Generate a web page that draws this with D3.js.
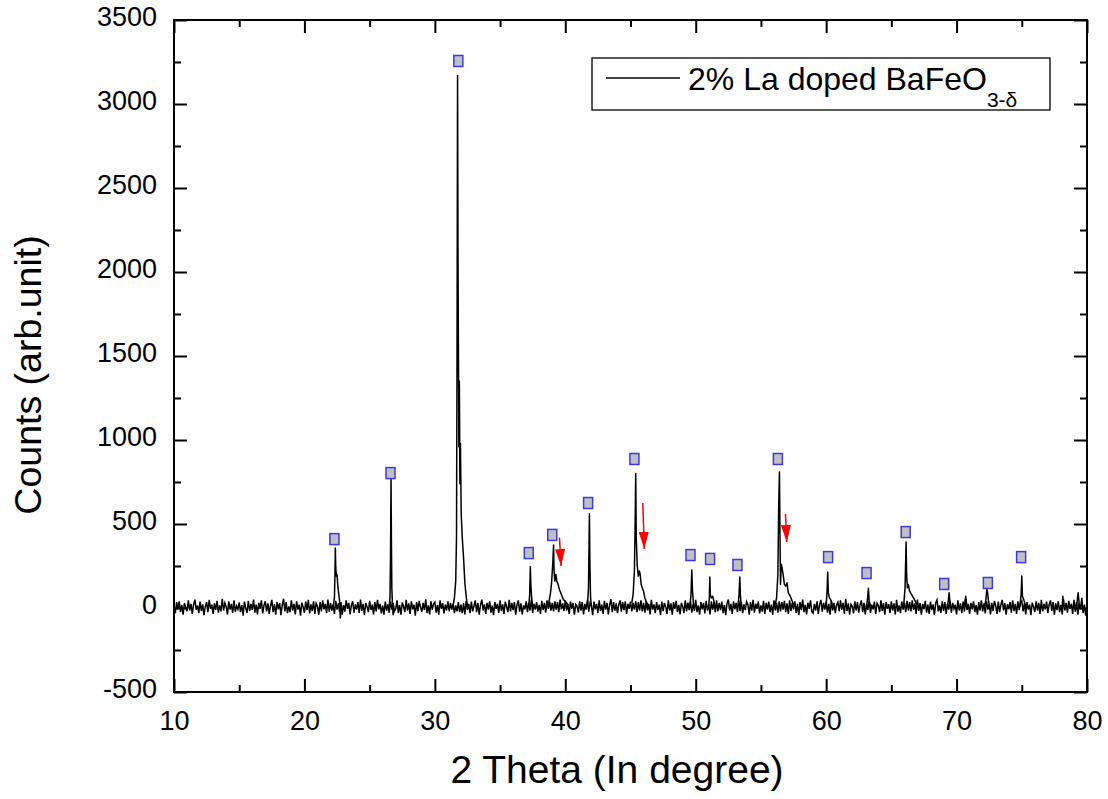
<!DOCTYPE html>
<html>
<head>
<meta charset="utf-8">
<script src="https://cdn.jsdelivr.net/npm/d3@7"></script>
<style>
  body { margin: 0; background: #fff; }
  text { font-family: Arial, "Liberation Sans", sans-serif; fill: #000; }
</style>
</head>
<body>
<svg id="chart"></svg>
<script>
// background counts, one value every 0.1 deg from 10.0 (one row per degree)
const background = [
  12,-30,35,-8,40,-25,18,-40,30,5,
  -20,45,-15,25,-35,20,50,-10,15,-30,
  38,-18,22,-42,10,35,-25,48,-5,20,
  -35,28,-12,42,-28,15,-20,55,-15,30,
  8,-38,40,-10,25,-30,45,-22,12,-8,
  33,-25,18,-45,38,0,-30,42,-18,25,
  -12,50,-28,20,-38,30,-5,45,-32,15,
  40,-20,28,-35,12,48,-25,22,-40,35,
  -8,30,-42,18,55,-20,35,-30,10,-25,
  45,-15,25,-38,40,-10,20,-45,32,5,
  -28,38,-12,48,-32,22,-18,40,-35,28,
  10,-40,35,-20,45,-8,25,-30,50,-22,
  30,-15,20,-35,42,-10,28,-25,35,-40,
  18,-22,45,-5,30,-38,15,40,-28,22,
  -10,35,-30,50,-18,25,-42,30,8,-25,
  42,-12,20,-38,35,-20,48,-8,25,-32,
  15,-40,38,-15,22,-28,40,-10,30,-20,
  -5,45,-30,18,-40,32,10,-25,48,-15,
  28,-35,40,-8,20,-45,35,-18,42,5,
  -22,30,-12,52,-30,15,-38,40,-10,25,
  35,-28,18,-40,45,-5,28,-32,20,-15,
  40,-20,30,-10,25,-30,15,-20,35,-25,
  20,-30,28,-38,42,-12,25,-30,38,-20,
  12,45,-25,30,-40,18,50,-15,22,-35,
  30,-10,40,-28,15,-42,35,-5,25,-30,
  45,-18,22,-35,38,8,-25,48,-20,30,
  -12,35,-40,20,45,-22,28,-38,15,-8,
  40,-25,32,-15,50,-30,25,-10,35,-22,
  18,-35,42,-12,30,-28,45,-5,38,-15,
  30,-20,40,-10,35,-25,50,-8,28,-18,
  45,-15,25,-35,38,-5,30,-40,22,10,
  -28,40,-15,35,-38,25,-10,48,-22,30,
  15,-42,38,-8,25,-30,45,-18,20,-35,
  42,-10,30,-38,18,52,-25,35,-15,28,
  -30,20,45,-22,35,-12,40,-35,25,-5,
  38,-20,30,-10,40,-25,35,-15,45,-20,
  30,-28,40,-15,25,-38,48,-10,22,-30,
  35,-12,20,-42,38,-18,30,8,-35,45,
  -15,28,-40,35,-5,42,-25,18,-38,30,
  10,-30,45,-20,32,-12,40,-28,25,-18,
  48,-25,15,-40,35,-8,30,-32,42,-15,
  22,-38,40,-10,35,-25,45,-20,30,-12,
  38,-30,18,-42,28,50,-15,25,-35,40,
  -8,30,-25,45,-18,35,-30,22,-12,38,
  20,-40,35,-15,48,-28,25,-5,40,-32,
  15,-22,42,-35,30,-10,38,-25,20,-40,
  45,-15,30,-28,40,-20,35,-10,42,-25,
  28,-35,45,-18,30,-8,40,-30,25,-42,
  35,-12,50,-25,18,-38,32,-5,45,-20,
  -30,25,-15,40,-35,20,48,-22,30,-10,
  38,-28,25,-40,42,-15,30,-30,20,35,
  -20,45,-10,30,-35,55,-18,28,-40,22,
  10,-32,40,-15,35,-28,18,45,-25,30,
  -38,25,-12,42,-30,20,-8,38,-35,28,
  15,-25,45,-18,30,-40,35,-5,22,-30,
  40,-15,28,-38,48,-22,15,-30,38,-10,
  30,-25,42,-15,35,-20,45,-12,28,-35,
  50,-18,30,-40,25,-8,42,-28,20,-35,
  38,-12,22,-42,30,48,-20,15,-30,40,
  -18,35,-35,25,-10,42,-28,30,-5,20,
  -38,45,-15,28,-30,38,-22,50,-12,25,
  -35,30,-8,40,-25,18,-40,35,-15,45,
  -20,28,-32,40,-10,25,-38,30,-18,42,
  12,-35,38,-25,20,48,-15,30,-40,22,
  -8,35,-28,45,-18,25,-35,40,-12,30,
  42,-20,28,-38,35,-10,20,-42,32,8,
  -25,40,-15,30,-35,48,-20,25,-8,38,
  -30,22,45,-18,35,-40,28,-12,40,-25,
  18,-38,50,-15,30,-28,42,-5,25,-35,
  48,-22,35,-40,28,-10,60,-30,20,-45,
  10
]
const bgStart = 10, bgStep = 0.1

// Bragg peaks, [2 theta, counts]
const peakProfiles = [
  [[22.2,10],[22.3,60],[22.34,200],[22.37,357],[22.4,240],[22.45,190],[22.5,200],[22.56,130],[22.62,90],[22.7,40],[22.75,-60],[22.85,10]],
  [[26.5,10],[26.56,60],[26.6,300],[26.64,770],[26.67,400],[26.7,120],[26.75,20],[26.8,-40],[26.85,10]],
  [[31.4,15],[31.5,60],[31.6,160],[31.66,420],[31.7,1500],[31.74,3170],[31.78,2000],[31.84,960],[31.88,1350],[31.92,740],[31.96,980],[32.02,560],[32.1,420],[32.2,300],[32.3,150],[32.4,70],[32.5,10]],
  [[37.2,10],[37.27,80],[37.32,246],[37.36,140],[37.42,60],[37.5,10]],
  [[38.7,20],[38.85,80],[38.95,150],[39.05,280],[39.1,375],[39.14,220],[39.2,160],[39.28,200],[39.35,160],[39.45,140],[39.55,110],[39.7,80],[39.85,50],[40,40],[40.2,20]],
  [[41.7,15],[41.78,120],[41.85,561],[41.89,250],[41.94,60],[42,10]],
  [[45.1,30],[45.2,80],[45.3,220],[45.36,520],[45.4,800],[45.44,420],[45.52,250],[45.6,190],[45.68,220],[45.74,200],[45.82,140],[45.9,120],[46,100],[46.1,60],[46.25,30],[46.4,10]],
  [[49.55,10],[49.64,80],[49.7,226],[49.75,110],[49.82,30],[49.9,10]],
  [[51,10],[51.05,70],[51.08,185],[51.12,80],[51.2,60],[51.3,70],[51.4,40],[51.5,10]],
  [[53.25,10],[53.32,80],[53.38,185],[53.43,70],[53.5,10]],
  [[56.1,20],[56.2,60],[56.3,200],[56.36,600],[56.42,810],[56.46,450],[56.5,140],[56.56,260],[56.62,240],[56.7,200],[56.8,140],[56.9,130],[57,150],[57.1,90],[57.25,70],[57.4,40],[57.6,10]],
  [[60,10],[60.07,100],[60.12,214],[60.17,90],[60.25,60],[60.35,50],[60.5,10]],
  [[63.1,10],[63.18,60],[63.24,117],[63.3,40],[63.4,10]],
  [[65.95,20],[66.05,120],[66.13,393],[66.17,200],[66.23,120],[66.3,140],[66.4,100],[66.55,80],[66.7,60],[66.9,30],[67.1,10]],
  [[69.3,10],[69.38,50],[69.43,91],[69.5,20]],
  [[70.6,10],[70.7,70],[70.8,10]],
  [[72.15,10],[72.25,50],[72.32,113],[72.38,90],[72.45,40],[72.55,10]],
  [[74.85,10],[74.95,80],[75,190],[75.05,70],[75.15,50],[75.3,10]],
  [[78.1,10],[78.15,70],[78.2,10]],
  [[79.2,10],[79.32,91],[79.42,10]]
]

// square peak markers
const markerTheta = [22.3, 26.6, 31.8, 37.2, 39.0, 41.75, 45.3, 49.6, 51.1, 53.2, 56.3, 60.15, 63.1, 66.1, 69.05, 72.4, 74.95]
const markerCounts = [410, 803, 3256, 327, 435, 625, 887, 315, 292, 256, 887, 303, 208, 452, 143, 149, 303]

// red arrows: [theta start, counts start, theta tip, counts tip]
const arrows = [
  [39.55, 420, 39.68, 190],
  [45.94, 625, 46.06, 292],
  [56.88, 560, 56.98, 333]
]

const xTicks = [10, 20, 30, 40, 50, 60, 70, 80]
const yTicks = [-500, 0, 500, 1000, 1500, 2000, 2500, 3000, 3500]

const width = 1108, height = 799
const margin = {top: 20, right: 21, bottom: 107, left: 174}

const svg = d3.select('#chart')
    .attr('width', width)
    .attr('height', height)

const x = d3.scaleLinear().domain([10, 80]).range([margin.left, width - margin.right])
const y = d3.scaleLinear().domain([-500, 3500]).range([height - margin.bottom, margin.top])

const x0 = x.range()[0], x1 = x.range()[1]
const y0 = y.range()[0], y1 = y.range()[1]

const fmt = d => d3.format('d')(d).replace('−', '-')

// axes (ticks point inward, on all four sides)
const xMinor = d3.range(15, 80, 10)
const yMinor = d3.range(-250, 3500, 500)

const axisStyle = g => {
    g.select('.domain').remove()
    g.selectAll('line').attr('stroke', '#000').attr('stroke-width', 2)
    g.selectAll('text').style('font-size', '27px')
}

svg.append('g')
    .attr('transform', `translate(0,${y0})`)
    .call(d3.axisBottom(x).tickValues(xTicks).tickSize(-13).tickPadding(19).tickFormat(fmt))
    .call(axisStyle)
svg.append('g')
    .attr('transform', `translate(0,${y0})`)
    .call(d3.axisBottom(x).tickValues(xMinor).tickSize(-7).tickFormat(''))
    .call(axisStyle)
svg.append('g')
    .attr('transform', `translate(0,${y1})`)
    .call(d3.axisTop(x).tickValues(xTicks).tickSize(-13).tickFormat(''))
    .call(axisStyle)
svg.append('g')
    .attr('transform', `translate(0,${y1})`)
    .call(d3.axisTop(x).tickValues(xMinor).tickSize(-7).tickFormat(''))
    .call(axisStyle)

svg.append('g')
    .attr('transform', `translate(${x0},0)`)
    .call(d3.axisLeft(y).tickValues(yTicks).tickSize(-13).tickPadding(17).tickFormat(fmt))
    .call(axisStyle)
    .selectAll('text').attr('dy', '0.22em')
svg.append('g')
    .attr('transform', `translate(${x0},0)`)
    .call(d3.axisLeft(y).tickValues(yMinor).tickSize(-7).tickFormat(''))
    .call(axisStyle)
svg.append('g')
    .attr('transform', `translate(${x1},0)`)
    .call(d3.axisRight(y).tickValues(yTicks).tickSize(-13).tickFormat(''))
    .call(axisStyle)
svg.append('g')
    .attr('transform', `translate(${x1},0)`)
    .call(d3.axisRight(y).tickValues(yMinor).tickSize(-7).tickFormat(''))
    .call(axisStyle)

// frame
svg.append('rect')
    .attr('x', x0).attr('y', y1)
    .attr('width', x1 - x0).attr('height', y0 - y1)
    .attr('fill', 'none').attr('stroke', '#000').attr('stroke-width', 2)

// background noise + peaks
const line = d3.line().x(d => x(d[0])).y(d => y(d[1]))

svg.append('path')
    .datum(background)
    .attr('d', d3.line().x((d, i) => x(bgStart + i * bgStep)).y(d => y(d)))
    .attr('fill', 'none')
    .attr('stroke', '#000')
    .attr('stroke-width', 1.5)

svg.append('g')
    .selectAll('path')
    .data(peakProfiles)
    .join('path')
        .attr('d', line)
        .attr('fill', 'none')
        .attr('stroke', '#000')
        .attr('stroke-width', 1.5)
        .attr('stroke-linejoin', 'round')

// peak markers
svg.append('g')
    .selectAll('rect')
    .data(markerTheta)
    .join('rect')
        .attr('x', d => x(d) - 4.5)
        .attr('y', (d, i) => y(markerCounts[i]) - 5.5)
        .attr('width', 9)
        .attr('height', 11)
        .attr('fill', '#c0c0c0')
        .attr('stroke', '#3a3ae6')
        .attr('stroke-width', 1.5)

// red arrows
svg.append('defs').append('marker')
    .attr('id', 'head')
    .attr('viewBox', '0 0 17 10')
    .attr('refX', 17).attr('refY', 5)
    .attr('markerWidth', 17).attr('markerHeight', 10)
    .attr('markerUnits', 'userSpaceOnUse')
    .attr('orient', 'auto')
    .append('path')
        .attr('d', 'M0,0 L17,5 L0,10 Z')
        .attr('fill', '#ff0000')

svg.append('g')
    .selectAll('line')
    .data(arrows)
    .join('line')
        .attr('x1', d => x(d[0])).attr('y1', d => y(d[1]))
        .attr('x2', d => x(d[2])).attr('y2', d => y(d[3]) - 10)
        .attr('stroke', '#ff0000')
        .attr('stroke-width', 1.5)
        .attr('marker-end', 'url(#head)')

// axis titles
svg.append('text')
    .attr('x', 617).attr('y', 783)
    .attr('text-anchor', 'middle')
    .style('font-size', '39px')
    .text('2 Theta (In degree)')

svg.append('text')
    .attr('transform', 'translate(41,375) rotate(-90)')
    .attr('text-anchor', 'middle')
    .style('font-size', '37.5px')
    .text('Counts (arb.unit)')

// legend
const legend = svg.append('g')
legend.append('rect')
    .attr('x', 592).attr('y', 58)
    .attr('width', 458).attr('height', 52)
    .attr('fill', '#fff').attr('stroke', '#000').attr('stroke-width', 1.3)
legend.append('line')
    .attr('x1', 606).attr('x2', 680)
    .attr('y1', 78).attr('y2', 78)
    .attr('stroke', '#000').attr('stroke-width', 1.3)
const lt = legend.append('text')
    .attr('x', 688).attr('y', 90)
    .style('font-size', '32px')
lt.append('tspan').text('2% La doped BaFeO')
lt.append('tspan').attr('dy', 17).style('font-size', '21px').text('3-δ')
</script>
</body>
</html>
